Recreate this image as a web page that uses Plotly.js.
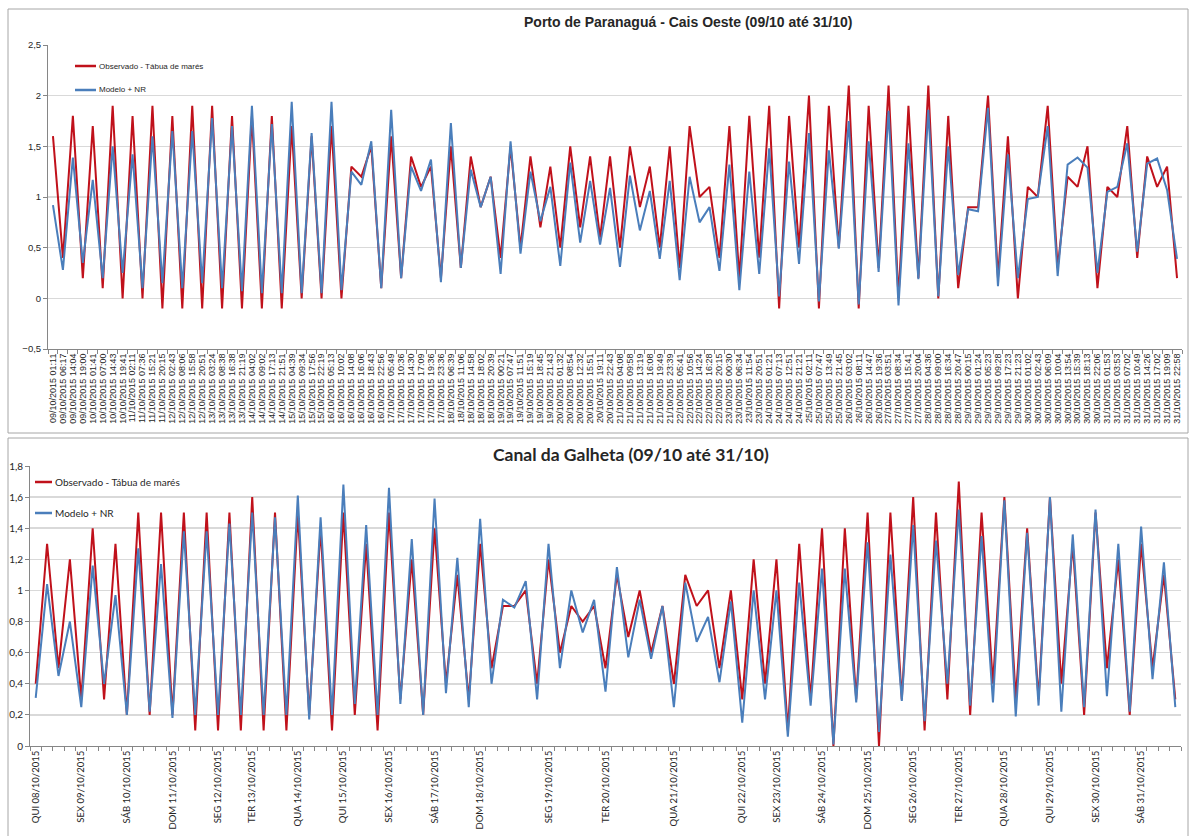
<!DOCTYPE html>
<html>
<head>
<meta charset="utf-8">
<script src="https://cdn.plot.ly/plotly-3.0.1.min.js"></script>
<style>
  html, body { margin: 0; padding: 0; background: #ffffff; }
  #chart { width: 1194px; height: 836px; }
</style>
</head>
<body>
<div id="chart"></div>
<script>
// ---- Porto de Paranaguá - Cais Oeste: tide instants and heights (m) ----
const paranaguaTimes = [
  "09/10/2015 01:11","09/10/2015 06:17","09/10/2015 14:04","09/10/2015 19:00",
  "10/10/2015 01:41","10/10/2015 07:00","10/10/2015 14:43","10/10/2015 19:41",
  "11/10/2015 02:11","11/10/2015 07:36","11/10/2015 15:21","11/10/2015 20:15",
  "12/10/2015 02:43","12/10/2015 08:06","12/10/2015 15:58","12/10/2015 20:51",
  "13/10/2015 03:24","13/10/2015 08:38","13/10/2015 16:38","13/10/2015 21:19",
  "14/10/2015 04:02","14/10/2015 09:02","14/10/2015 17:13","14/10/2015 21:51",
  "15/10/2015 04:39","15/10/2015 09:34","15/10/2015 17:56","15/10/2015 22:19",
  "16/10/2015 05:13","16/10/2015 10:02","16/10/2015 14:08","16/10/2015 16:06",
  "16/10/2015 18:43","16/10/2015 22:56","17/10/2015 05:49","17/10/2015 10:36",
  "17/10/2015 14:30","17/10/2015 17:09","17/10/2015 19:36","17/10/2015 23:36",
  "18/10/2015 06:39","18/10/2015 11:06","18/10/2015 14:58","18/10/2015 18:02",
  "18/10/2015 20:39","19/10/2015 00:21","19/10/2015 07:47","19/10/2015 11:51",
  "19/10/2015 15:19","19/10/2015 18:45","19/10/2015 21:43","20/10/2015 01:32",
  "20/10/2015 08:54","20/10/2015 12:32","20/10/2015 15:51","20/10/2015 19:11",
  "20/10/2015 22:43","21/10/2015 04:08","21/10/2015 09:58","21/10/2015 13:19",
  "21/10/2015 16:08","21/10/2015 19:49","21/10/2015 23:39","22/10/2015 05:41",
  "22/10/2015 10:56","22/10/2015 14:24","22/10/2015 16:28","22/10/2015 20:15",
  "23/10/2015 00:30","23/10/2015 06:34","23/10/2015 11:54","23/10/2015 20:51",
  "24/10/2015 01:21","24/10/2015 07:13","24/10/2015 12:51","24/10/2015 21:21",
  "25/10/2015 02:11","25/10/2015 07:47","25/10/2015 13:49","25/10/2015 21:45",
  "26/10/2015 03:02","26/10/2015 08:11","26/10/2015 14:47","26/10/2015 19:36",
  "27/10/2015 03:51","27/10/2015 08:34","27/10/2015 15:41","27/10/2015 20:04",
  "28/10/2015 04:36","28/10/2015 09:00","28/10/2015 16:34","28/10/2015 20:47",
  "29/10/2015 00:15","29/10/2015 01:24","29/10/2015 05:23","29/10/2015 09:28",
  "29/10/2015 17:23","29/10/2015 21:23","30/10/2015 01:02","30/10/2015 02:43",
  "30/10/2015 06:09","30/10/2015 10:04","30/10/2015 13:54","30/10/2015 15:39",
  "30/10/2015 18:13","30/10/2015 22:06","31/10/2015 01:53","31/10/2015 03:53",
  "31/10/2015 07:02","31/10/2015 10:49","31/10/2015 14:26","31/10/2015 17:02",
  "31/10/2015 19:09","31/10/2015 22:58"
];

const paranaguaObservado = [
  1.6, 0.4, 1.8, 0.2, 1.7, 0.1, 1.9, 0.0, 1.8, 0.0,
  1.9, -0.1, 1.8, -0.1, 1.9, -0.1, 1.9, -0.1, 1.8, -0.1,
  1.8, -0.1, 1.8, -0.1, 1.7, 0.0, 1.6, 0.0, 1.7, 0.0,
  1.3, 1.2, 1.5, 0.1, 1.6, 0.2, 1.4, 1.1, 1.3, 0.2,
  1.5, 0.3, 1.4, 0.9, 1.2, 0.4, 1.5, 0.5, 1.4, 0.7,
  1.3, 0.5, 1.5, 0.7, 1.4, 0.6, 1.4, 0.5, 1.5, 0.9,
  1.3, 0.5, 1.5, 0.3, 1.7, 1.0, 1.1, 0.4, 1.7, 0.2,
  1.8, 0.4, 1.9, -0.1, 1.8, 0.5, 2.0, -0.1, 1.9, 0.5,
  2.1, -0.1, 1.9, 0.3, 2.1, 0.0, 1.9, 0.2, 2.1, 0.0,
  1.8, 0.1, 0.9, 0.9, 2.0, 0.2, 1.6, 0.0, 1.1, 1.0,
  1.9, 0.3, 1.2, 1.1, 1.5, 0.1, 1.1, 1.0, 1.7, 0.4,
  1.4, 1.1, 1.3, 0.2
];

const paranaguaModelo = [
  0.92, 0.28, 1.39, 0.35, 1.17, 0.20, 1.50, 0.25, 1.42, 0.10,
  1.60, 0.15, 1.65, 0.10, 1.65, 0.15, 1.78, 0.10, 1.70, 0.07,
  1.90, 0.05, 1.72, 0.05, 1.94, 0.05, 1.63, 0.05, 1.94, 0.08,
  1.25, 1.12, 1.55, 0.10, 1.86, 0.20, 1.30, 1.06, 1.37, 0.16,
  1.73, 0.30, 1.27, 0.90, 1.20, 0.24, 1.55, 0.44, 1.25, 0.76,
  1.10, 0.32, 1.34, 0.55, 1.16, 0.53, 1.09, 0.31, 1.21, 0.67,
  1.06, 0.39, 1.16, 0.18, 1.20, 0.75, 0.90, 0.27, 1.32, 0.08,
  1.25, 0.24, 1.48, 0.02, 1.35, 0.34, 1.63, -0.03, 1.46, 0.49,
  1.75, -0.06, 1.55, 0.26, 1.85, -0.07, 1.53, 0.19, 1.86, 0.02,
  1.50, 0.23, 0.88, 0.86, 1.88, 0.12, 1.42, 0.20, 0.98, 1.00,
  1.70, 0.22, 1.32, 1.39, 1.29, 0.25, 1.05, 1.10, 1.53, 0.46,
  1.33, 1.38, 1.07, 0.39
];

// ---- Canal da Galheta: successive high/low tides (m) ----
const galhetaObservado = [
  0.4, 1.3, 0.5, 1.2, 0.3, 1.4, 0.3, 1.3, 0.2, 1.5,
  0.2, 1.5, 0.2, 1.5, 0.1, 1.5, 0.1, 1.5, 0.1, 1.6,
  0.1, 1.5, 0.1, 1.5, 0.2, 1.4, 0.1, 1.5, 0.2, 1.3,
  0.1, 1.5, 0.3, 1.2, 0.2, 1.4, 0.4, 1.1, 0.3, 1.3,
  0.5, 0.9, 0.9, 1.0, 0.4, 1.2, 0.6, 0.9, 0.8, 0.9,
  0.5, 1.1, 0.7, 1.0, 0.6, 0.9, 0.4, 1.1, 0.9, 1.0,
  0.5, 1.0, 0.3, 1.2, 0.4, 1.2, 0.1, 1.3, 0.3, 1.4,
  0.0, 1.4, 0.3, 1.5, 0.0, 1.5, 0.3, 1.6, 0.1, 1.5,
  0.3, 1.7, 0.2, 1.5, 0.4, 1.6, 0.3, 1.4, 0.3, 1.6,
  0.4, 1.3, 0.2, 1.5, 0.5, 1.2, 0.2, 1.3, 0.5, 1.1,
  0.3
];

const galhetaModelo = [
  0.31, 1.04, 0.45, 0.80, 0.25, 1.16, 0.40, 0.97, 0.20, 1.27,
  0.22, 1.17, 0.18, 1.38, 0.20, 1.38, 0.20, 1.43, 0.20, 1.50,
  0.20, 1.47, 0.20, 1.61, 0.17, 1.47, 0.20, 1.68, 0.27, 1.42,
  0.20, 1.66, 0.27, 1.33, 0.20, 1.59, 0.34, 1.21, 0.25, 1.46,
  0.40, 0.94, 0.89, 1.06, 0.30, 1.30, 0.50, 1.00, 0.73, 0.94,
  0.35, 1.15, 0.57, 0.94, 0.56, 0.90, 0.25, 1.05, 0.67, 0.83,
  0.41, 0.93, 0.15, 1.00, 0.30, 1.00, 0.06, 1.05, 0.26, 1.14,
  0.01, 1.14, 0.28, 1.31, 0.09, 1.23, 0.29, 1.42, 0.16, 1.32,
  0.40, 1.52, 0.26, 1.35, 0.28, 1.58, 0.19, 1.37, 0.26, 1.60,
  0.22, 1.36, 0.25, 1.52, 0.32, 1.30, 0.22, 1.41, 0.43, 1.18,
  0.25
];

// day labels of the Galheta axis and the tide number each day starts at
const galhetaDays = [
  "QUI 08/10/2015","SEX 09/10/2015","SÁB 10/10/2015","DOM 11/10/2015",
  "SEG 12/10/2015","TER 13/10/2015","QUA 14/10/2015","QUI 15/10/2015",
  "SEX 16/10/2015","SÁB 17/10/2015","DOM 18/10/2015","SEG 19/10/2015",
  "TER 20/10/2015","QUA 21/10/2015","QUI 22/10/2015","SEX 23/10/2015",
  "SÁB 24/10/2015","DOM 25/10/2015","SEG 26/10/2015","TER 27/10/2015",
  "QUA 28/10/2015","QUI 29/10/2015","SEX 30/10/2015","SÁB 31/10/2015"
];
const galhetaDayStart = [0, 4, 8, 12, 16, 19, 23, 27, 31, 35, 39, 45,
                         50, 56, 62, 65, 69, 73, 77, 81, 85, 89, 93, 97];

const seriesNames = ["Observado - Tábua de marés", "Modelo + NR"];

// ---- drawing ----
const W = 1194, H = 836;
const px = x => x / W;          // pixel column -> paper x
const py = y => 1 - y / H;      // pixel row    -> paper y

const RED = "#c0111b";
const BLUE = "#4a7ebb";
const COLORS = [RED, BLUE];
const AXIS = "#868686";
const GRID = "#d9d9d9";
const INK = "#262626";
const ARIAL = "Liberation Sans, Arial, sans-serif";
const SOFT = "Lato, Liberation Sans, sans-serif";

const galhetaX = galhetaObservado.map((_, i) => i);

const traces = [
  { x: paranaguaTimes, y: paranaguaObservado, name: seriesNames[0],
    type: "scatter", mode: "lines", xaxis: "x", yaxis: "y",
    line: { color: RED, width: 2 } },
  { x: paranaguaTimes, y: paranaguaModelo, name: seriesNames[1],
    type: "scatter", mode: "lines", xaxis: "x", yaxis: "y",
    line: { color: BLUE, width: 2 } },
  { x: galhetaX, y: galhetaObservado, name: seriesNames[0],
    type: "scatter", mode: "lines", xaxis: "x2", yaxis: "y2",
    line: { color: RED, width: 2 } },
  { x: galhetaX, y: galhetaModelo, name: seriesNames[1],
    type: "scatter", mode: "lines", xaxis: "x2", yaxis: "y2",
    line: { color: BLUE, width: 2 } }
];

// chart frames, titles and legend keys (coloured strokes + series names)
const shapes = [
  { type: "rect", xref: "paper", yref: "paper",
    x0: px(8), x1: px(1188), y0: py(433), y1: py(9),
    line: { color: "#a6a6a6", width: 1 }, fillcolor: "rgba(0,0,0,0)" },
  { type: "rect", xref: "paper", yref: "paper",
    x0: px(8), x1: px(1188), y0: py(840), y1: py(438),
    line: { color: "#a6a6a6", width: 1 }, fillcolor: "rgba(0,0,0,0)" }
];
const annotations = [
  { text: "<b>Porto de Paranaguá - Cais Oeste (09/10 até 31/10)</b>",
    xref: "paper", yref: "paper", x: px(688), y: py(22),
    xanchor: "center", yanchor: "middle", showarrow: false,
    font: { family: ARIAL, size: 14, color: INK } },
  { text: "<b>Canal da Galheta (09/10 até 31/10)</b>",
    xref: "paper", yref: "paper", x: px(631), y: py(454),
    xanchor: "center", yanchor: "middle", showarrow: false,
    font: { family: SOFT, size: 17.5, color: INK } }
];
const legendSpots = [
  { x0: 75, x1: 96, ys: [66, 90], font: { family: ARIAL, size: 8, color: INK } },
  { x0: 35, x1: 52, ys: [482, 513], font: { family: SOFT, size: 10, color: INK } }
];
legendSpots.forEach(spot => {
  seriesNames.forEach((name, k) => {
    shapes.push({ type: "line", xref: "paper", yref: "paper",
      x0: px(spot.x0), x1: px(spot.x1), y0: py(spot.ys[k]), y1: py(spot.ys[k]),
      line: { color: COLORS[k], width: 2.5 } });
    annotations.push({ text: name, xref: "paper", yref: "paper",
      x: px(spot.x1 + 1), y: py(spot.ys[k]), xanchor: "left", yanchor: "middle",
      showarrow: false, font: spot.font });
  });
});

const layout = {
  width: W, height: H,
  margin: { l: 0, r: 0, t: 0, b: 0 },
  paper_bgcolor: "#ffffff", plot_bgcolor: "#ffffff",
  separators: ",.",
  showlegend: false,
  hovermode: false,
  font: { family: ARIAL, color: INK },

  xaxis: {
    domain: [px(48), px(1182)], anchor: "y", type: "category",
    range: [-0.5, paranaguaTimes.length - 0.5],
    tickmode: "linear", tick0: 0, dtick: 1, tickangle: -90,
    tickfont: { family: ARIAL, size: 9, color: INK },
    ticks: "outside", tickson: "boundaries", ticklen: 4, tickcolor: AXIS,
    showline: true, linecolor: AXIS, linewidth: 1,
    showgrid: false, zeroline: false, automargin: false
  },
  yaxis: {
    domain: [py(349), py(45)], anchor: "x",
    range: [-0.5, 2.5], tickmode: "linear", tick0: 0, dtick: 0.5,
    tickfont: { family: ARIAL, size: 9.5, color: INK },
    ticks: "outside", ticklen: 4, tickcolor: AXIS,
    showline: true, linecolor: AXIS, linewidth: 1,
    showgrid: true, gridcolor: GRID, gridwidth: 1.5,
    zeroline: false, automargin: false
  },

  xaxis2: {
    domain: [px(30), px(1181)], anchor: "y2", type: "linear",
    range: [-0.5, galhetaObservado.length - 0.5],
    tickmode: "array", tickvals: galhetaDayStart, ticktext: galhetaDays,
    tickangle: -90, ticks: "",
    tickfont: { family: SOFT, size: 9.5, color: INK },
    minor: { ticks: "outside", ticklen: 4, tick0: 0.5, dtick: 1,
             tickcolor: AXIS, showgrid: false },
    showline: true, linecolor: AXIS, linewidth: 1,
    showgrid: false, zeroline: false, automargin: false
  },
  yaxis2: {
    domain: [py(746), py(466)], anchor: "x2",
    range: [0, 1.8], tickmode: "linear", tick0: 0, dtick: 0.2,
    tickfont: { family: SOFT, size: 10, color: INK },
    ticks: "outside", ticklen: 4, tickcolor: AXIS,
    showline: true, linecolor: AXIS, linewidth: 1,
    showgrid: true, gridcolor: GRID, gridwidth: 1.5,
    zeroline: false, automargin: false
  },

  annotations: annotations,
  shapes: shapes
};

Plotly.newPlot("chart", traces, layout, { staticPlot: true, displayModeBar: false });
</script>
</body>
</html>
